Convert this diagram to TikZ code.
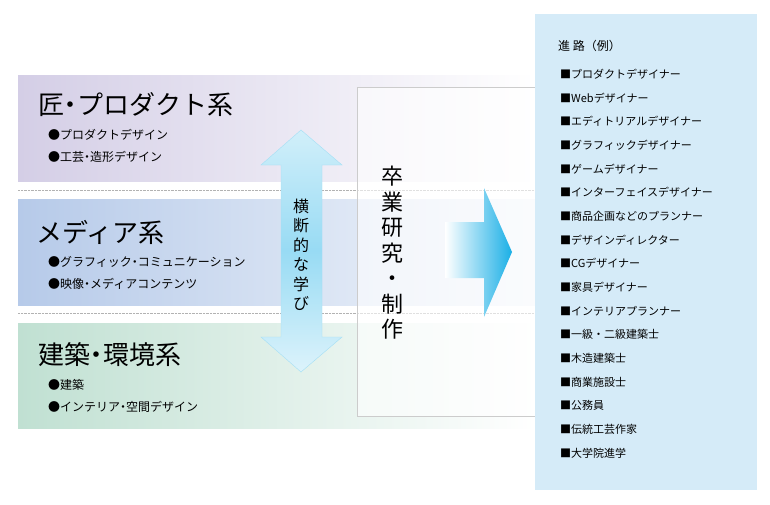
\documentclass[tikz,border=0pt]{standalone}
\usepackage{fontspec}
\setmainfont{Noto Sans CJK JP}
\usetikzlibrary{shapes.arrows}
\definecolor{panel}{HTML}{D5EBF8}
\definecolor{bandA}{HTML}{D4CEE6}
\definecolor{bandB}{HTML}{B6CAE9}
\definecolor{bandC}{HTML}{C0E0D2}
\definecolor{arrowblue}{HTML}{1AAFE6}
\tikzset{x=1pt,y=-1pt,
 title/.style={anchor=west,font=\fontsize{26}{28}\selectfont,inner sep=0},
 item/.style={anchor=west,font=\fontsize{12}{13}\selectfont,inner sep=0},
 job/.style={anchor=west,font=\fontsize{11}{12}\selectfont,inner sep=0},
 vert/.style={align=center,inner sep=0}}
\newcommand{\ndot}{\hspace{-0.25em}・\hspace{-0.25em}}
\begin{document}
\begin{tikzpicture}
\useasboundingbox (0,0) rectangle (770,504);
% bands
\shade[left color=bandA,right color=white] (18,75) rectangle (535,181);
\shade[left color=bandB,right color=white!85!bandB] (18,199) rectangle (535,305);
\shade[left color=bandC,right color=white] (18,323) rectangle (535,428);
\draw[gray!60,densely dotted] (18,190) -- (535,190);
\draw[gray!60,densely dotted] (18,313) -- (535,313);
% box
\fill[white,opacity=0.6] (357,87) rectangle (535,416);
\draw[gray!40] (535,87) -- (357,87) -- (357,416) -- (535,416);
% double arrow
\shade[top color=white!80!arrowblue,bottom color=white!85!arrowblue,middle color=white!55!arrowblue,draw=white!60!arrowblue]
 (301,130) -- (342,165) -- (322,165) -- (322,337) -- (342,337) -- (301,372) -- (261,337) -- (281,337) -- (281,165) -- (261,165) -- cycle;
% right arrow
\shade[left color=white,right color=arrowblue]
 (445,222) -- (484,222) -- (484,188) -- (512,252) -- (484,317) -- (484,278) -- (445,278) -- cycle;
% panel
\fill[panel] (535,14) rectangle (757,490);
% texts
\node[title] (t1) at (38,105) {匠\ndot プロダクト系};
\node[item] (i1) at (48,135) {●プロダクトデザイン};
\node[item] (i2) at (48,157) {●工芸\ndot 造形デザイン};
\node[title] (t2) at (36,232) {メディア系};
\node[item] (i3) at (48,262) {●グラフィック\ndot コミュニケーション};
\node[item] (i4) at (48,284) {●映像\ndot メディアコンテンツ};
\node[title] (t3) at (38,355) {建築\ndot 環境系};
\node[item] (i5) at (48,385) {●建築};
\node[item] (i6) at (48,407) {●インテリア\ndot 空間デザイン};
\node[vert,font=\fontsize{16}{19.5}\selectfont] (v1) at (301,255) {横\\断\\的\\な\\学\\び};
\node[vert,font=\fontsize{22}{25.5}\selectfont] (v2) at (392,253) {卒\\業\\研\\究\\・\\制\\作};
\node[job,font=\fontsize{12}{13}\selectfont] (h) at (558,46) {進 路（例）};
\foreach \t [count=\i from 0] in {プロダクトデザイナー,Webデザイナー,エディトリアルデザイナー,グラフィックデザイナー,ゲームデザイナー,インターフェイスデザイナー,商品企画などのプランナー,デザインディレクター,CGデザイナー,家具デザイナー,インテリアプランナー,一級・二級建築士,木造建築士,商業施設士,公務員,伝統工芸作家,大学院進学}
  \node[job] (j\i) at (560,{74+23.7*\i}) {■\t};
\end{tikzpicture}
\end{document}
